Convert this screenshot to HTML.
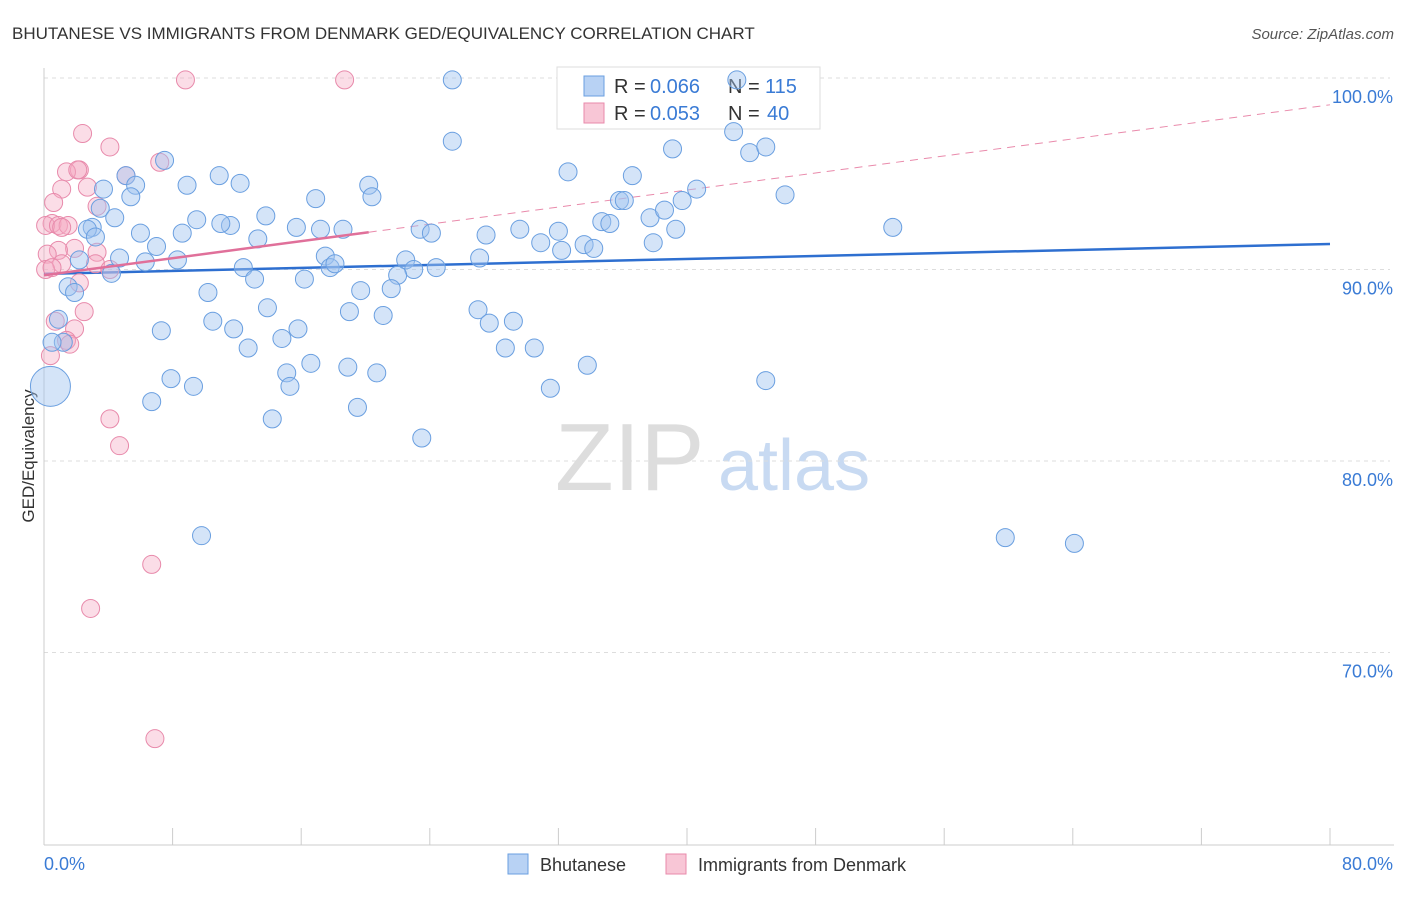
<!DOCTYPE html>
<html><head><meta charset="utf-8"><style>
body{margin:0;background:#fff;font-family:"Liberation Sans",sans-serif;}
svg text{font-family:"Liberation Sans",sans-serif;}
</style></head><body>
<svg id="chart" width="1406" height="892" xmlns="http://www.w3.org/2000/svg">
<text x="12" y="39" font-size="17" fill="#333">BHUTANESE VS IMMIGRANTS FROM DENMARK GED/EQUIVALENCY CORRELATION CHART</text>
<text x="1394" y="39" font-size="15" fill="#555" text-anchor="end" font-style="italic">Source: ZipAtlas.com</text>
<text transform="translate(34,456) rotate(-90)" font-size="17" fill="#333" text-anchor="middle">GED/Equivalency</text>
<g>
<text x="555" y="490" font-size="96" fill="#ddd" font-family="Liberation Serif,serif">ZIP</text>
<text x="718" y="490" font-size="72" fill="#c8daf2">atlas</text>
</g>
<g id="grid"></g><g id="axes"></g>
<g>
<rect x="557" y="67" width="263" height="62" fill="#fff" stroke="#ddd"/>
<rect x="584" y="76" width="20" height="20" fill="#b8d2f4" stroke="#6a9fe0"/>
<text x="614" y="93" font-size="20" fill="#333">R =</text>
<text x="650" y="93" font-size="20" fill="#3a7bd5">0.066</text>
<text x="728" y="93" font-size="20" fill="#333">N =</text>
<text x="765" y="93" font-size="20" fill="#3a7bd5">115</text>
<rect x="584" y="103" width="20" height="20" fill="#f8c6d6" stroke="#e88aab"/>
<text x="614" y="120" font-size="20" fill="#333">R =</text>
<text x="650" y="120" font-size="20" fill="#3a7bd5">0.053</text>
<text x="728" y="120" font-size="20" fill="#333">N =</text>
<text x="767" y="120" font-size="20" fill="#3a7bd5">40</text>
</g>
<g id="lines"></g><g id="points"></g>
<g>
<rect x="508" y="854" width="20" height="20" fill="#b8d2f4" stroke="#6a9fe0"/>
<text x="540" y="871" font-size="18" fill="#333">Bhutanese</text>
<rect x="666" y="854" width="20" height="20" fill="#f8c6d6" stroke="#e88aab"/>
<text x="698" y="871" font-size="18" fill="#333">Immigrants from Denmark</text>
</g>
</svg>
<script>
const yTicks=[100,90,80,70];
const yTickLabels=["100.0%","90.0%","80.0%","70.0%"];
const xTickLabels=["0.0%","80.0%"];
const blueX=[25.4,43.1,25.4,42.9,39.1,43.9,44.9,32.6,36.6,40.6,46.1,39.7,35.8,37.7,38.6,39.3,37.9,36.1,34.7,35.2,32.0,30.9,32.2,33.6,34.2,29.6,27.5,27.1,27.0,27.7,28.7,29.2,30.5,31.5,33.8,44.9,52.8,59.8,64.1,10.9,12.2,8.9,7.5,5.1,5.7,3.7,5.4,3.5,4.4,6.0,7.0,8.6,9.5,11.6,11.0,13.3,13.8,15.7,16.9,17.2,18.6,20.2,20.4,23.4,24.1,22.5,23.0,22.0,24.4,21.6,19.7,19.0,21.1,17.5,17.8,18.1,16.2,12.4,13.1,10.2,10.5,11.8,13.9,14.8,15.8,12.7,16.6,15.1,15.3,18.9,20.7,19.5,14.2,23.5,7.3,7.9,9.3,6.7,9.8,3.0,2.7,3.2,2.2,1.5,1.9,4.2,4.7,6.3,8.3,0.9,1.2,0.5,0.4];
const blueY=[99.9,99.9,96.7,97.2,96.3,96.1,96.4,95.1,94.9,94.2,93.9,93.6,93.6,92.7,93.1,92.1,91.4,93.6,92.5,92.4,92.0,91.4,91.0,91.3,91.1,92.1,91.8,90.6,87.9,87.2,85.9,87.3,85.9,83.8,85.0,84.2,92.2,76.0,75.7,94.9,94.5,94.4,95.7,94.9,94.4,94.2,93.8,93.2,92.7,91.9,91.2,91.9,92.6,92.3,92.4,91.6,92.8,92.2,93.7,92.1,92.1,94.4,93.8,92.1,91.9,90.5,90.0,89.7,90.1,89.0,88.9,87.8,87.6,90.7,90.1,90.3,89.5,90.1,89.5,88.8,87.3,86.9,88.0,86.4,86.9,85.9,85.1,84.6,83.9,84.9,84.6,82.8,82.2,81.2,86.8,84.3,83.9,83.1,76.1,92.2,92.1,91.7,90.5,89.1,88.8,89.8,90.6,90.4,90.5,87.4,86.2,86.2,83.9];
const pinkX=[8.8,18.7,2.4,4.1,5.1,7.2,2.2,1.4,1.1,2.7,0.6,3.3,0.5,0.1,0.9,1.5,1.1,1.9,0.9,0.2,1.1,0.1,3.3,3.2,4.1,2.2,2.5,0.7,1.9,1.4,1.6,0.4,4.1,4.7,6.7,2.9,6.9,0.5,2.1];
const pinkY=[99.9,99.9,97.1,96.4,94.9,95.6,95.2,95.1,94.2,94.3,93.5,93.3,92.4,92.3,92.3,92.3,92.2,91.1,91.0,90.8,90.3,90.0,90.9,90.3,90.0,89.3,87.8,87.3,86.9,86.3,86.1,85.5,82.2,80.8,74.6,72.3,65.5,90.1,95.2];
const blueTrend=[89.77,91.33];
const pinkTrend=[89.7,98.6];
const pinkSolidEnd=20.2;
const NS="http://www.w3.org/2000/svg";
const X0=44,X1=1330,Y100=78,PXPER=19.15;
function sx(v){return X0+v/80*(X1-X0);}
function sy(v){return Y100+(100-v)*PXPER;}
function mk(tag,attrs,parent){const e=document.createElementNS(NS,tag);for(const k in attrs)e.setAttribute(k,attrs[k]);parent.appendChild(e);return e;}
const grid=document.getElementById('grid'),axes=document.getElementById('axes'),lines=document.getElementById('lines'),pts=document.getElementById('points');
yTicks.forEach((t,i)=>{
 const l=mk('line',{x1:X0,x2:X1+60,y1:sy(t),y2:sy(t),stroke:'#ddd','stroke-dasharray':'4,4'},grid);
 
 
 const tx=mk('text',{x:1393,y:sy(t)+25,'font-size':18,fill:'#3a7bd5','text-anchor':'end'},axes);
 tx.textContent=yTickLabels[i];
 
 
});
const ax=mk('line',{x1:X0,x2:X0,y1:68,y2:845,stroke:'#ccc'},axes);


const bx=mk('line',{x1:X0,x2:1394,y1:845,y2:845,stroke:'#ccc'},axes);


for(let i=0;i<=10;i++){const t=mk('line',{x1:sx(i*8),x2:sx(i*8),y1:828,y2:845,stroke:'#ccc'},axes);
 
 }
const xl0=mk('text',{x:44,y:870,'font-size':18,fill:'#3a7bd5'},axes);xl0.textContent=xTickLabels[0];


const xl1=mk('text',{x:1393,y:870,'font-size':18,fill:'#3a7bd5','text-anchor':'end'},axes);xl1.textContent=xTickLabels[1];


function drawPts(xs,ys,fill,stroke,name){xs.forEach((x,i)=>{const r=(name==='bhutanese-point'&&i===xs.length-1)?20:9;
 const c=mk('circle',{cx:sx(x),cy:sy(ys[i]),r:r,fill:fill,stroke:stroke,'stroke-width':1},pts);
 
 });}
drawPts(pinkX,pinkY,'rgba(245,170,195,0.4)','#e88aab','denmark-point');
drawPts(blueX,blueY,'rgba(160,196,240,0.45)','#6a9fe0','bhutanese-point');
const bl=mk('line',{x1:sx(0),y1:sy(blueTrend[0]),x2:sx(80),y2:sy(blueTrend[1]),stroke:'#2e6fd0','stroke-width':2.5},lines);


const pyEnd=pinkTrend[0]+(pinkTrend[1]-pinkTrend[0])*pinkSolidEnd/80;
const pd=mk('line',{x1:sx(pinkSolidEnd),y1:sy(pyEnd),x2:sx(80),y2:sy(pinkTrend[1]),stroke:'#e98aab','stroke-width':1,'stroke-dasharray':'8,6'},lines);


const ps=mk('line',{x1:sx(0),y1:sy(pinkTrend[0]),x2:sx(pinkSolidEnd),y2:sy(pyEnd),stroke:'#e0709a','stroke-width':2.5},pts);


</script>
</body></html>
